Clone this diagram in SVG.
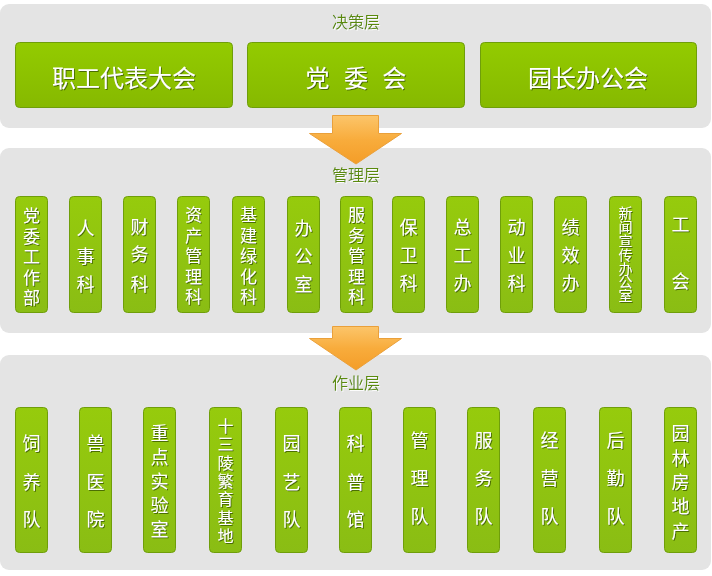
<svg xmlns="http://www.w3.org/2000/svg" width="712" height="576" viewBox="0 0 712 576">
<style>
.panel{fill:#e4e4e4}
.box{fill:url(#gGreen);stroke:#6f9e0a;stroke-width:1}
.tbox{fill:url(#gGreenTop);stroke:#6f9e0a;stroke-width:1}
.t{font-family:"Microsoft YaHei","Noto Sans CJK SC",sans-serif;fill:#ffffff;text-anchor:middle;dominant-baseline:central;filter:url(#sh)}
.big{font-size:24px}
.mid{font-size:18px}
.mid5{font-size:17px}
.mid7{font-size:14px}
.low{font-size:18px}
.low7{font-size:16px}
.lbl{font-family:"Microsoft YaHei","Noto Sans CJK SC",sans-serif;font-size:16px;fill:#5a8a10;text-anchor:middle;dominant-baseline:central;filter:url(#shl)}
.arrow{fill:url(#gOrange);stroke:#eaa03a;stroke-width:1}
</style>
<defs>
<linearGradient id="gGreen" x1="0" y1="0" x2="0" y2="1">
<stop offset="0" stop-color="#96cb0c"/>
<stop offset="1" stop-color="#8abd14"/>
</linearGradient>
<linearGradient id="gGreenTop" x1="0" y1="0" x2="0" y2="1">
<stop offset="0" stop-color="#93cb00"/>
<stop offset="1" stop-color="#86b900"/>
</linearGradient>
<linearGradient id="gOrange" x1="0" y1="0" x2="0" y2="1">
<stop offset="0" stop-color="#fcc56a"/>
<stop offset="0.5" stop-color="#f8ac3c"/>
<stop offset="1" stop-color="#f49d28"/>
</linearGradient>
<filter id="sh" x="-20%" y="-20%" width="140%" height="140%">
<feDropShadow dx="1" dy="1" stdDeviation="0.4" flood-color="#3f5f00" flood-opacity="0.85"/>
</filter>
<filter id="shl" x="-20%" y="-20%" width="140%" height="140%">
<feDropShadow dx="1" dy="1" stdDeviation="0.3" flood-color="#ffffff" flood-opacity="0.9"/>
</filter>
</defs>
<rect width="712" height="576" fill="#ffffff"/>

<g id="panels">
<rect class="panel" x="0" y="4" width="711" height="124" rx="9"/>
<rect class="panel" x="0" y="148" width="711" height="185" rx="9"/>
<rect class="panel" x="0" y="355" width="711" height="215" rx="9"/>
</g>

<g id="connectors">
<path class="arrow" d="M332.5,115.5 H378.5 V133.5 H401.5 L356,164 L309.5,133.5 H332.5 Z"/>
<path class="arrow" d="M332.5,326.5 H378.5 V338.5 H401.5 L356,370 L309.5,338.5 H332.5 Z"/>
</g>

<g id="layer-labels">
<text class="lbl" x="356" y="21">决策层</text>
<text class="lbl" x="356" y="174">管理层</text>
<text class="lbl" x="356" y="382">作业层</text>
</g>

<g id="n-zgdbdh"><rect class="tbox" x="15.5" y="42.5" width="217" height="65" rx="4"/><text class="t big" x="124" y="76">职工代表大会</text></g>
<g id="n-dw"><rect class="tbox" x="247.5" y="42.5" width="217" height="65" rx="4"/><text class="t big" x="356" y="76" xml:space="preserve" style="word-spacing:9px">党 委 会</text></g>
<g id="n-yzbgh"><rect class="tbox" x="480.5" y="42.5" width="216" height="65" rx="4"/><text class="t big" x="588" y="76">园长办公会</text></g>

<g id="m1"><rect class="box" x="15.5" y="196.5" width="32" height="116" rx="4"/><text class="t mid5"><tspan x="31.5" y="214">党</tspan><tspan x="31.5" y="234.5">委</tspan><tspan x="31.5" y="255">工</tspan><tspan x="31.5" y="275.5">作</tspan><tspan x="31.5" y="296">部</tspan></text></g>
<g id="m2"><rect class="box" x="69.5" y="196.5" width="32" height="116" rx="4"/><text class="t mid"><tspan x="85.5" y="227">人</tspan><tspan x="85.5" y="255">事</tspan><tspan x="85.5" y="283">科</tspan></text></g>
<g id="m3"><rect class="box" x="123.5" y="196.5" width="32" height="116" rx="4"/><text class="t mid"><tspan x="139.5" y="226">财</tspan><tspan x="139.5" y="253">务</tspan><tspan x="139.5" y="283">科</tspan></text></g>
<g id="m4"><rect class="box" x="177.5" y="196.5" width="32" height="116" rx="4"/><text class="t mid5"><tspan x="193.5" y="213">资</tspan><tspan x="193.5" y="233.5">产</tspan><tspan x="193.5" y="254">管</tspan><tspan x="193.5" y="274.5">理</tspan><tspan x="193.5" y="295">科</tspan></text></g>
<g id="m5"><rect class="box" x="232.5" y="196.5" width="32" height="116" rx="4"/><text class="t mid5"><tspan x="248.5" y="213">基</tspan><tspan x="248.5" y="233.5">建</tspan><tspan x="248.5" y="254">绿</tspan><tspan x="248.5" y="274.5">化</tspan><tspan x="248.5" y="295">科</tspan></text></g>
<g id="m6"><rect class="box" x="287.5" y="196.5" width="32" height="116" rx="4"/><text class="t mid"><tspan x="303.5" y="227">办</tspan><tspan x="303.5" y="255">公</tspan><tspan x="303.5" y="283">室</tspan></text></g>
<g id="m7"><rect class="box" x="340.5" y="196.5" width="32" height="116" rx="4"/><text class="t mid5"><tspan x="356.5" y="213">服</tspan><tspan x="356.5" y="233.5">务</tspan><tspan x="356.5" y="254">管</tspan><tspan x="356.5" y="274.5">理</tspan><tspan x="356.5" y="295">科</tspan></text></g>
<g id="m8"><rect class="box" x="392.5" y="196.5" width="32" height="116" rx="4"/><text class="t mid"><tspan x="408.5" y="226">保</tspan><tspan x="408.5" y="254">卫</tspan><tspan x="408.5" y="282">科</tspan></text></g>
<g id="m9"><rect class="box" x="446.5" y="196.5" width="32" height="116" rx="4"/><text class="t mid"><tspan x="462.5" y="226">总</tspan><tspan x="462.5" y="254">工</tspan><tspan x="462.5" y="282">办</tspan></text></g>
<g id="m10"><rect class="box" x="500.5" y="196.5" width="32" height="116" rx="4"/><text class="t mid"><tspan x="516.5" y="226">动</tspan><tspan x="516.5" y="254">业</tspan><tspan x="516.5" y="282">科</tspan></text></g>
<g id="m11"><rect class="box" x="554.5" y="196.5" width="32" height="116" rx="4"/><text class="t mid"><tspan x="570.5" y="226">绩</tspan><tspan x="570.5" y="254">效</tspan><tspan x="570.5" y="282">办</tspan></text></g>
<g id="m12"><rect class="box" x="609.5" y="196.5" width="32" height="116" rx="4"/><text class="t mid7"><tspan x="625.5" y="212">新</tspan><tspan x="625.5" y="226">闻</tspan><tspan x="625.5" y="240">宣</tspan><tspan x="625.5" y="254">传</tspan><tspan x="625.5" y="267.5">办</tspan><tspan x="625.5" y="281">公</tspan><tspan x="625.5" y="295">室</tspan></text></g>
<g id="m13"><rect class="box" x="664.5" y="196.5" width="32" height="116" rx="4"/><text class="t mid"><tspan x="680.5" y="223">工</tspan><tspan x="680.5" y="280">会</tspan></text></g>

<g id="b1"><rect class="box" x="15.5" y="407.5" width="32" height="145" rx="4"/><text class="t low"><tspan x="31.5" y="442">饲</tspan><tspan x="31.5" y="481">养</tspan><tspan x="31.5" y="518">队</tspan></text></g>
<g id="b2"><rect class="box" x="79.5" y="407.5" width="32" height="145" rx="4"/><text class="t low"><tspan x="95.5" y="442">兽</tspan><tspan x="95.5" y="481">医</tspan><tspan x="95.5" y="518">院</tspan></text></g>
<g id="b3"><rect class="box" x="143.5" y="407.5" width="32" height="145" rx="4"/><text class="t low"><tspan x="159.5" y="432">重</tspan><tspan x="159.5" y="456">点</tspan><tspan x="159.5" y="480">实</tspan><tspan x="159.5" y="504">验</tspan><tspan x="159.5" y="528">室</tspan></text></g>
<g id="b4"><rect class="box" x="209.5" y="407.5" width="32" height="145" rx="4"/><text class="t low7"><tspan x="225.5" y="425">十</tspan><tspan x="225.5" y="443.3">三</tspan><tspan x="225.5" y="461.7">陵</tspan><tspan x="225.5" y="480">繁</tspan><tspan x="225.5" y="498.3">育</tspan><tspan x="225.5" y="516.7">基</tspan><tspan x="225.5" y="535">地</tspan></text></g>
<g id="b5"><rect class="box" x="275.5" y="407.5" width="32" height="145" rx="4"/><text class="t low"><tspan x="291.5" y="442">园</tspan><tspan x="291.5" y="481">艺</tspan><tspan x="291.5" y="518">队</tspan></text></g>
<g id="b6"><rect class="box" x="339.5" y="407.5" width="32" height="145" rx="4"/><text class="t low"><tspan x="355.5" y="442">科</tspan><tspan x="355.5" y="481">普</tspan><tspan x="355.5" y="518">馆</tspan></text></g>
<g id="b7"><rect class="box" x="403.5" y="407.5" width="32" height="145" rx="4"/><text class="t low"><tspan x="419.5" y="439">管</tspan><tspan x="419.5" y="477">理</tspan><tspan x="419.5" y="515">队</tspan></text></g>
<g id="b8"><rect class="box" x="467.5" y="407.5" width="32" height="145" rx="4"/><text class="t low"><tspan x="483.5" y="439">服</tspan><tspan x="483.5" y="477">务</tspan><tspan x="483.5" y="515">队</tspan></text></g>
<g id="b9"><rect class="box" x="533.5" y="407.5" width="32" height="145" rx="4"/><text class="t low"><tspan x="549.5" y="439">经</tspan><tspan x="549.5" y="477">营</tspan><tspan x="549.5" y="515">队</tspan></text></g>
<g id="b10"><rect class="box" x="599.5" y="407.5" width="32" height="145" rx="4"/><text class="t low"><tspan x="615.5" y="439">后</tspan><tspan x="615.5" y="477">勤</tspan><tspan x="615.5" y="515">队</tspan></text></g>
<g id="b11"><rect class="box" x="664.5" y="407.5" width="32" height="145" rx="4"/><text class="t low"><tspan x="680.5" y="432">园</tspan><tspan x="680.5" y="457">林</tspan><tspan x="680.5" y="481">房</tspan><tspan x="680.5" y="505">地</tspan><tspan x="680.5" y="530">产</tspan></text></g>
</svg>
